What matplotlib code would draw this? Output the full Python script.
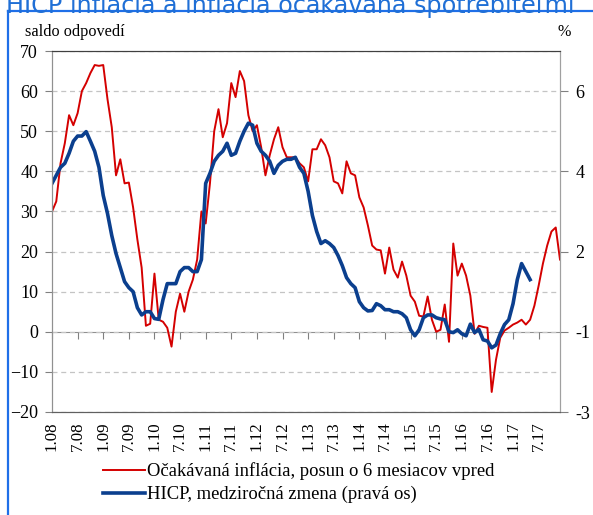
import numpy as np
import matplotlib.pyplot as plt
from matplotlib.lines import Line2D

# months from 1/2008 (index 0) to 12/2017 (index 119)
months = np.arange(120)
tick_labels = ['1.08', '7.08', '1.09', '7.09', '1.10', '7.10', '1.11', '7.11',
               '1.12', '7.12', '1.13', '7.13', '1.14', '7.14', '1.15', '7.15',
               '1.16', '7.16', '1.17', '7.17']

# expected inflation (balance of answers), shifted 6 months ahead - left axis
expected = [30, 32.5, 42, 47, 54, 51.5, 54.5, 60, 62, 64.5,
            66.5, 66.3, 66.5, 58, 51, 39, 43, 37, 37.2, 31,
            23, 16, 1.5, 2, 14.5, 3, 2.5, 1, -3.7, 5,
            9.5, 5, 10, 13, 18, 30, 27, 37, 50, 55.5,
            48.5, 52, 62, 58.5, 65, 62.5, 54, 50, 51.5, 46,
            39, 44, 48, 51, 46, 43.5, 43.5, 43.5, 42, 41,
            37.5, 45.5, 45.5, 48, 46.5, 43.5, 37.5, 37, 34.5, 42.5,
            39.5, 39, 33.5, 31, 26.5, 21.5, 20.5, 20.3, 14.5, 21,
            15.5, 13.5, 17.5, 14, 9, 7.5, 4, 3.8, 8.8, 3,
            0, 0.5, 6.8, -2.5, 22, 14, 17, 14, 9, -0.5,
            1.5, 1.2, 1.0, -15, -7, -1.5, 0.3, 1, 1.8, 2.3,
            3, 1.8, 3, 6.5, 11.5, 17, 21.5, 25, 26, 18]

# HICP y/y change (%) - right axis
hicp = [3.7, 3.9, 4.1, 4.2, 4.45, 4.75, 4.88, 4.88, 4.99, 4.75,
        4.5, 4.1, 3.4, 2.95, 2.4, 1.95, 1.6, 1.25, 1.1, 1.0,
        0.6, 0.42, 0.5, 0.5, 0.33, 0.31, 0.8, 1.2, 1.2, 1.2,
        1.5, 1.6, 1.6, 1.5, 1.5, 1.8, 3.7, 3.95, 4.25, 4.4,
        4.5, 4.7, 4.4, 4.45, 4.75, 5.0, 5.2, 5.15, 4.7, 4.5,
        4.4, 4.25, 3.95, 4.15, 4.25, 4.3, 4.3, 4.35, 4.1, 3.95,
        3.5, 2.9, 2.5, 2.2, 2.27, 2.2, 2.1, 1.9, 1.65, 1.35,
        1.2, 1.1, 0.75, 0.6, 0.52, 0.53, 0.7, 0.65, 0.55, 0.55,
        0.5, 0.5, 0.45, 0.35, 0.05, -0.1, 0.05, 0.35, 0.42, 0.42,
        0.35, 0.32, 0.3, 0.0, -0.02, 0.05, -0.05, -0.1, 0.19, -0.02,
        0.06, -0.2, -0.23, -0.4, -0.33, -0.05, 0.18, 0.3, 0.7, 1.3,
        1.7, 1.5, 1.3]

plt.rcParams['font.family'] = ['Liberation Serif', 'DejaVu Serif']

fig = plt.figure(figsize=(5.93, 5.15), dpi=100)
ax = fig.add_axes([52 / 593, 1 - 412 / 515, (560 - 52) / 593, (412 - 51) / 515])
ax2 = ax.twinx()

ax.plot(months, expected, color='#D40000', lw=1.4)
ax2.plot(months[:len(hicp)], hicp, color='#0B3F8E', lw=2.6)

ax.set_xlim(0, 119)
ax.set_ylim(-20, 70)
ax.set_yticks(range(-20, 71, 10))
ax2.set_ylim(-2, 7)
ax2.set_yticks([-2, 0, 2, 4, 6], labels=['-3', '-1', '2', '4', '6'])

ax.grid(axis='y', ls=(0, (4, 3)), color='#C4C4C4', lw=0.9)
ax.set_axisbelow(True)

ax.set_xticks(months[::6], labels=tick_labels, rotation=90)
ax.tick_params(axis='x', length=0, pad=7, labelsize=12.2)
ax.tick_params(axis='y', direction='out', length=5, color='#808080',
               labelsize=13, pad=5)
ax2.tick_params(axis='y', direction='out', length=6, color='#808080',
                labelsize=13, pad=5)

# axis line at zero with the month ticks
sec = ax.secondary_xaxis(20 / 90)
sec.set_xticks(months[::6])
sec.tick_params(direction='out', length=5, color='#808080', labelbottom=False)
sec.spines['bottom'].set_color('#909090')

for a in (ax, ax2):
    a.spines['top'].set_color('#404040')
    a.spines['left'].set_color('#909090')
    a.spines['right'].set_color('#A0A0A0')
    a.spines['bottom'].set_color('#606060')

fig.text(25 / 593, 1 - 32 / 515, 'saldo odpovedí', fontsize=11.7, va='center')
fig.text(557 / 593, 1 - 32 / 515, '%', fontsize=11.7, va='center')

fig.text(6 / 593, 1 - 13 / 515, 'HICP inflácia a inflácia očakávaná spotrebiteľmi',
         color='#1F6FD6', fontsize=17.2, family='DejaVu Sans', va='baseline')
fig.add_artist(Line2D([7.5 / 593, 7.5 / 593], [0, 1 - 11 / 515],
                      transform=fig.transFigure, color='#1F6FE8', lw=1.6))
fig.add_artist(Line2D([7.5 / 593, 1], [1 - 11 / 515, 1 - 11 / 515],
                      transform=fig.transFigure, color='#1F6FE8', lw=1.6))

handles = [Line2D([], [], color='#D40000', lw=1.4),
           Line2D([], [], color='#0B3F8E', lw=2.6)]
fig.legend(handles, ['Očakávaná inflácia, posun o 6 mesiacov vpred',
                     'HICP, medziročná zmena (pravá os)'],
           loc='upper left', bbox_to_anchor=(96 / 593, 1 - 455 / 515),
           frameon=False, fontsize=13.4, handlelength=2.25, handletextpad=0.1,
           labelspacing=0.3, borderaxespad=0)

fig.savefig('out.png', dpi=100)
